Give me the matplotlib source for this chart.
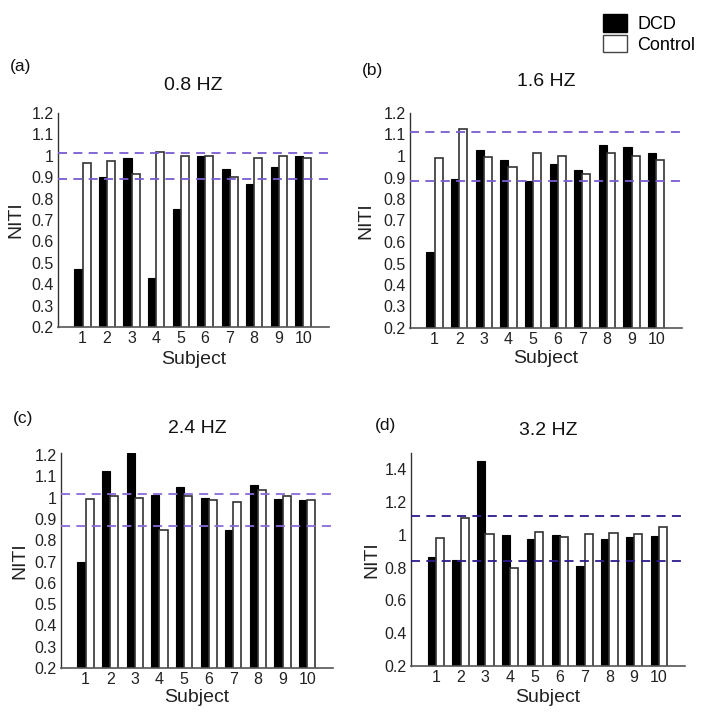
import matplotlib
matplotlib.use("Agg")
import matplotlib.pyplot as plt
import numpy as np
from matplotlib.patches import Patch

plt.rcParams['font.family'] = ['Liberation Sans', 'DejaVu Sans']

subjects = [1, 2, 3, 4, 5, 6, 7, 8, 9, 10]

dcd_08 = [0.47, 0.90, 0.99, 0.43, 0.75, 1.00, 0.94, 0.87, 0.95, 1.00]
ctl_08 = [0.965, 0.975, 0.915, 1.02, 1.00, 1.00, 0.90, 0.99, 1.00, 0.99]
ref_08 = [1.015, 0.89]

dcd_16 = [0.553, 0.894, 1.029, 0.982, 0.886, 0.962, 0.937, 1.049, 1.041, 1.013]
ctl_16 = [0.99, 1.125, 0.995, 0.951, 1.013, 1.00, 0.917, 1.013, 1.00, 0.982]
ref_16 = [1.111, 0.886]

dcd_24 = [0.696, 1.127, 1.208, 1.015, 1.049, 1.00, 0.85, 1.06, 0.993, 0.987]
ctl_24 = [0.995, 1.01, 1.00, 0.85, 1.01, 0.988, 0.978, 1.037, 1.01, 0.99]
ref_24 = [1.016, 0.866]

dcd_32 = [0.865, 0.849, 1.449, 1.00, 0.976, 1.00, 0.81, 0.973, 0.986, 0.994]
ctl_32 = [0.984, 1.102, 1.006, 0.796, 1.016, 0.99, 1.008, 1.012, 1.008, 1.047]
ref_32 = [1.116, 0.841]

titles = ["0.8 HZ", "1.6 HZ", "2.4 HZ", "3.2 HZ"]
letters = ["(a)", "(b)", "(c)", "(d)"]

W, H = 708, 717
fig = plt.figure(figsize=(W / 100, H / 100), dpi=100)

def frac(l, r, top, bot):
    return [l / W, 1 - bot / H, (r - l) / W, (bot - top) / H]

panels = [
    dict(rect=frac(58, 329, 113, 327), dcd=dcd_08, ctl=ctl_08, ref=ref_08,
         ylim=(0.2, 1.2), yticks=[0.2, 0.3, 0.4, 0.5, 0.6, 0.7, 0.8, 0.9, 1.0, 1.1, 1.2],
         dash='#7a5cd0', letter_xy=(10, 67), title_y=86, ylab_x=16, xlab_y=360),
    dict(rect=frac(410, 682, 113, 328), dcd=dcd_16, ctl=ctl_16, ref=ref_16,
         ylim=(0.2, 1.2), yticks=[0.2, 0.3, 0.4, 0.5, 0.6, 0.7, 0.8, 0.9, 1.0, 1.1, 1.2],
         dash='#7a5cd0', letter_xy=(362, 70), title_y=81, ylab_x=366, xlab_y=358),
    dict(rect=frac(61, 333, 453, 668), dcd=dcd_24, ctl=ctl_24, ref=ref_24,
         ylim=(0.2, 1.21), yticks=[0.2, 0.3, 0.4, 0.5, 0.6, 0.7, 0.8, 0.9, 1.0, 1.1, 1.2],
         dash='#8a6ad8', letter_xy=(13, 418), title_y=429, ylab_x=20, xlab_y=697),
    dict(rect=frac(411, 685, 453, 666), dcd=dcd_32, ctl=ctl_32, ref=ref_32,
         ylim=(0.2, 1.5), yticks=[0.2, 0.4, 0.6, 0.8, 1.0, 1.2, 1.4],
         dash='#2e1a8c', letter_xy=(375, 425), title_y=431, ylab_x=372, xlab_y=697),
]

def fmt(v):
    s = f"{v:.1f}"
    return "1" if s == "1.0" else s

x = np.array(subjects, dtype=float)
w = 0.33
for i, p in enumerate(panels):
    ax = fig.add_axes(p['rect'])
    ax.bar(x - w / 2, p['dcd'], width=w, bottom=0, color='black', edgecolor='black', linewidth=0.8)
    ax.bar(x + w / 2, p['ctl'], width=w, bottom=0, color='white', edgecolor='#333333', linewidth=1.2)
    for r in p['ref']:
        ax.axhline(r, color=p['dash'], linestyle=(0, (5, 3.5)), linewidth=1.3, zorder=3)
    ax.set_xlim(0, 11.05)
    ax.set_ylim(*p['ylim'])
    ax.set_yticks(p['yticks'])
    ax.set_yticklabels([fmt(v) for v in p['yticks']], fontsize=11.5, color='#222222')
    ax.set_xticks(subjects)
    ax.set_xticklabels([str(s) for s in subjects], fontsize=11.5, color='#222222')
    ax.tick_params(length=0, pad=3)
    for s in ['top', 'right']:
        ax.spines[s].set_visible(False)
    ax.spines['left'].set_color('#333333')
    ax.spines['bottom'].set_color('#555555')
    ax.spines['left'].set_linewidth(1.0)
    ax.spines['bottom'].set_linewidth(1.2)
    ax.set_facecolor('none')
    l, b, wd, ht = p['rect']
    cx = l + wd / 2
    fig.text(cx, 1 - p['title_y'] / H, titles[i], ha='center', va='center', fontsize=14, color='#111111')
    fig.text(p['letter_xy'][0] / W, 1 - p['letter_xy'][1] / H, letters[i], ha='left', va='center', fontsize=12.5, color='#111111')
    fig.text(p['ylab_x'] / W, b + ht / 2, "NITI", rotation=90, ha='center', va='center', fontsize=14, color='#222222')
    fig.text(cx, 1 - p['xlab_y'] / H, "Subject", ha='center', va='center', fontsize=14, color='#222222')

handles = [Patch(facecolor='black', edgecolor='black', label='DCD'),
           Patch(facecolor='white', edgecolor='#444444', label='Control')]
fig.legend(handles=handles, loc='upper left', bbox_to_anchor=(596 / W, 1 - 7 / H),
           frameon=False, fontsize=13, handlelength=1.3, handleheight=1.1,
           handletextpad=0.6, labelspacing=0.1, borderaxespad=0)

fig.savefig("out.png", dpi=100)
